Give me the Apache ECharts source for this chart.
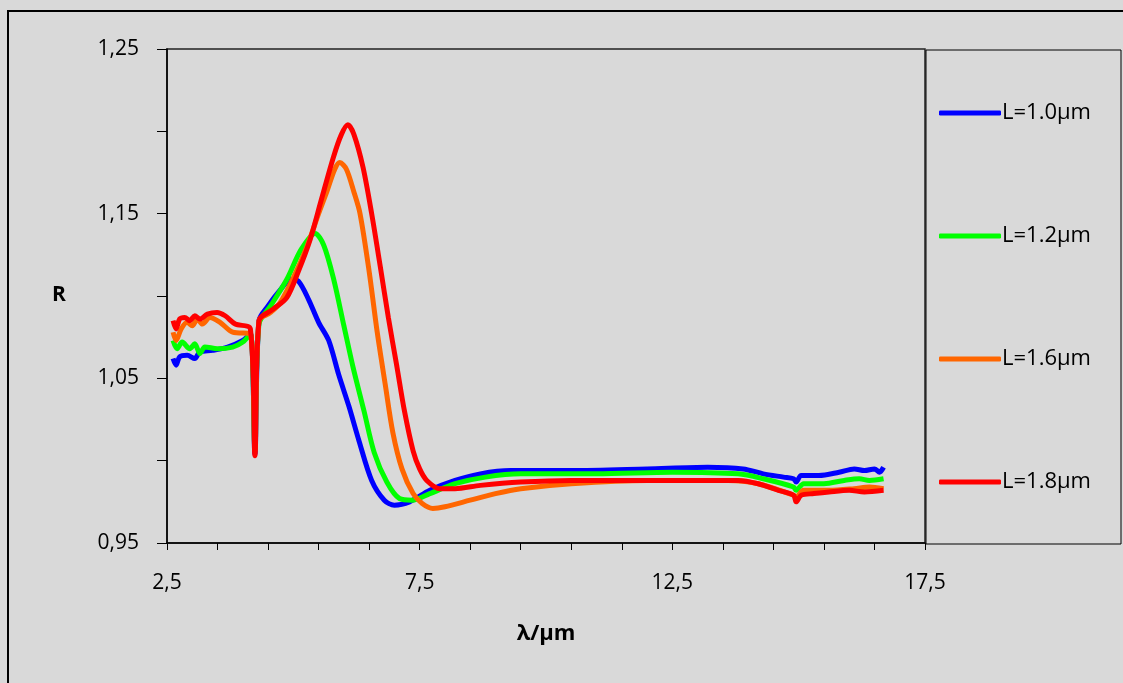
<!DOCTYPE html>
<html>
<head>
<meta charset="UTF-8">
<script src="https://cdn.jsdelivr.net/npm/echarts@6/dist/echarts.min.js"></script>
<style>
  html,body{margin:0;padding:0;background:#fff;}
  #chart{width:1123px;height:683px;}
</style>
</head>
<body>
<div id="chart"></div>
<script>
// wavelength / reflectance
var blue = [[2.62,1.062],[2.68,1.058],[2.75,1.063],[2.9,1.064],[3.05,1.062],[3.15,1.066],[3.4,1.067],[3.7,1.069],[4.0,1.073],[4.15,1.077],[4.24,1.004],[4.32,1.085],[4.5,1.094],[4.75,1.104],[4.95,1.110],[5.1,1.109],[5.3,1.098],[5.5,1.084],[5.7,1.073],[5.9,1.052],[6.1,1.033],[6.3,1.012],[6.55,0.988],[6.8,0.976],[7.0,0.973],[7.3,0.975],[7.7,0.982],[8.2,0.988],[8.7,0.992],[9.3,0.994],[10.5,0.994],[12,0.995],[13.2,0.996],[13.9,0.995],[14.3,0.992],[14.7,0.990],[14.9,0.989],[14.95,0.987],[15.05,0.991],[15.4,0.991],[15.8,0.993],[16.1,0.995],[16.3,0.994],[16.5,0.995],[16.6,0.993],[16.68,0.996]];
var green = [[2.62,1.073],[2.7,1.068],[2.8,1.072],[2.95,1.068],[3.05,1.071],[3.15,1.065],[3.25,1.069],[3.5,1.068],[3.8,1.069],[4.0,1.072],[4.15,1.077],[4.24,1.006],[4.32,1.083],[4.55,1.094],[4.87,1.110],[5.15,1.128],[5.43,1.138],[5.6,1.131],[5.8,1.110],[6.0,1.082],[6.18,1.057],[6.4,1.030],[6.6,1.005],[6.85,0.987],[7.1,0.977],[7.35,0.976],[7.7,0.980],[8.2,0.986],[8.8,0.990],[9.5,0.992],[11,0.992],[12.5,0.993],[13.8,0.992],[14.3,0.989],[14.9,0.984],[14.95,0.982],[15.1,0.986],[15.5,0.986],[15.9,0.988],[16.2,0.989],[16.4,0.988],[16.68,0.989]];
var orange = [[2.62,1.078],[2.68,1.073],[2.78,1.080],[2.9,1.084],[3.0,1.082],[3.1,1.086],[3.2,1.083],[3.35,1.087],[3.55,1.084],[3.8,1.078],[4.15,1.077],[4.24,1.006],[4.32,1.085],[4.55,1.090],[4.74,1.096],[5.0,1.111],[5.27,1.130],[5.5,1.150],[5.67,1.164],[5.82,1.177],[5.92,1.181],[6.05,1.177],[6.2,1.163],[6.32,1.150],[6.5,1.115],[6.66,1.078],[6.82,1.046],[6.97,1.017],[7.15,0.995],[7.37,0.980],[7.55,0.974],[7.76,0.971],[8.0,0.972],[8.5,0.976],[9.0,0.980],[9.5,0.983],[10.5,0.986],[12,0.988],[13.6,0.988],[14.2,0.986],[14.9,0.979],[14.95,0.978],[15.1,0.982],[15.6,0.982],[16.1,0.983],[16.4,0.984],[16.68,0.983]];
var red = [[2.62,1.085],[2.68,1.080],[2.75,1.086],[2.85,1.087],[2.95,1.085],[3.05,1.088],[3.15,1.086],[3.3,1.089],[3.49,1.090],[3.65,1.088],[3.85,1.083],[4.15,1.080],[4.24,1.003],[4.32,1.085],[4.6,1.092],[4.87,1.099],[5.1,1.115],[5.33,1.134],[5.55,1.158],[5.79,1.184],[5.95,1.198],[6.08,1.204],[6.2,1.198],[6.38,1.178],[6.55,1.150],[6.72,1.118],[6.88,1.087],[7.05,1.057],[7.2,1.030],[7.37,1.006],[7.5,0.995],[7.64,0.988],[7.9,0.983],[8.2,0.983],[8.7,0.985],[9.5,0.987],[10.5,0.988],[12,0.988],[13.8,0.988],[14.2,0.986],[14.6,0.982],[14.9,0.979],[14.95,0.975],[15.05,0.979],[15.3,0.980],[15.6,0.981],[16.0,0.982],[16.3,0.981],[16.68,0.982]];

var names = ['L=1.0μm','L=1.2μm','L=1.6μm','L=1.8μm'];
var colors = ['#0000ff','#00ff00','#ff6600','#ff0000'];
var seriesData = [blue, green, orange, red];

var font = '"Open Sans", "Liberation Sans", sans-serif';
function comma(v, d){ return v.toFixed(d).replace('.', ','); }

var chart = echarts.init(document.getElementById('chart'));
var series = [];
for (var i = 0; i < seriesData.length; i++) {
  series.push({
    name: names[i], type: 'line', data: seriesData[i],
    symbol: 'none', smooth: 0.3, z: 2 + i,
    lineStyle: {color: colors[i], width: 5},
    itemStyle: {color: colors[i]}
  });
}

chart.setOption({
  backgroundColor: '#d9d9d9',
  animation: false,
  graphic: [
    {type: 'rect', shape: {x: 8, y: 11, width: 1130, height: 700}, style: {fill: 'none', stroke: '#000', lineWidth: 2}},
    {type: 'rect', shape: {x: 926, y: 50, width: 195, height: 494}, style: {fill: 'none', stroke: '#000', lineWidth: 1}},
    {type: 'text', left: 52, top: 285, style: {text: 'R', font: 'bold 21px ' + font, fill: '#000'}}
  ],
  grid: {left: 167, top: 49, right: 198, bottom: 140, show: true, borderColor: '#222', borderWidth: 1.5},
  legend: {
    orient: 'vertical', left: 934, top: 93, itemGap: 93,
    itemWidth: 62, itemHeight: 5, icon: 'roundRect',
    data: names,
    textStyle: {fontFamily: font, fontSize: 22, color: '#000', padding: [0, 0, 0, -4], lineHeight: 30}
  },
  xAxis: {
    type: 'value', min: 2.5, max: 17.5, interval: 5,
    name: 'λ/μm', nameLocation: 'middle', nameGap: 80,
    nameTextStyle: {fontFamily: font, fontSize: 22, fontWeight: 'bold', color: '#000'},
    axisLine: {lineStyle: {color: '#000', width: 1.5}},
    axisTick: {length: 7, lineStyle: {color: '#000'}},
    minorTick: {show: true, splitNumber: 5, length: 7, lineStyle: {color: '#000'}},
    splitLine: {show: false},
    axisLabel: {fontFamily: font, fontSize: 21, color: '#000', margin: 30, formatter: function(v){ return comma(v, 1); }}
  },
  yAxis: {
    type: 'value', min: 0.95, max: 1.25, interval: 0.1,
    axisLine: {show: true, lineStyle: {color: '#000', width: 1.5}},
    axisTick: {show: true, length: 10, lineStyle: {color: '#000'}},
    minorTick: {show: true, splitNumber: 2, length: 10, lineStyle: {color: '#000'}},
    splitLine: {show: false},
    axisLabel: {fontFamily: font, fontSize: 21, color: '#000', margin: 28, formatter: function(v){ return comma(v, 2); }}
  },
  series: series
});
</script>
</body>
</html>
